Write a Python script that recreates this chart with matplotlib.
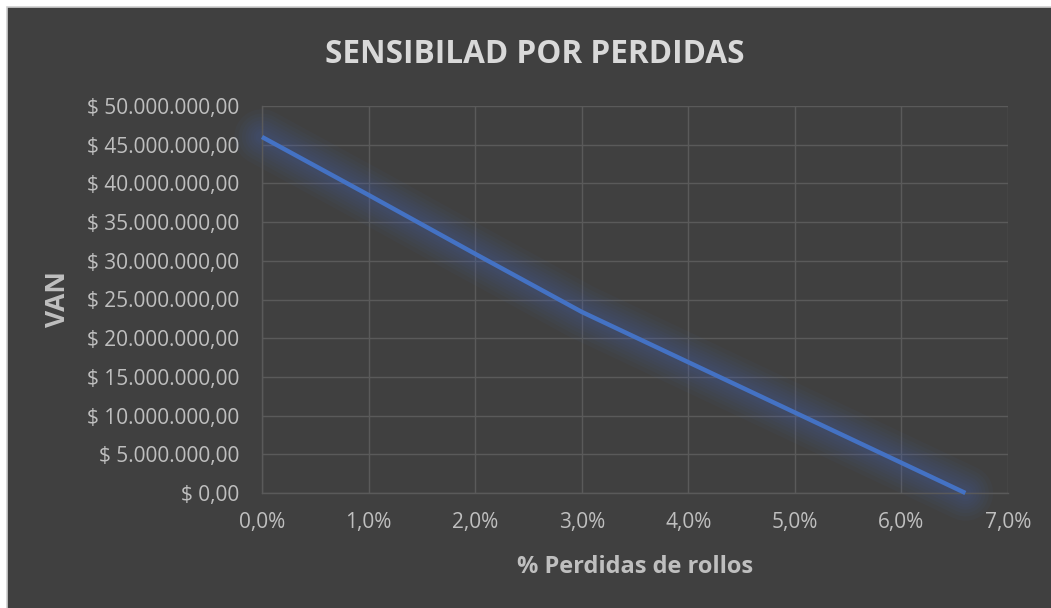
import matplotlib
matplotlib.use("Agg")
import matplotlib.pyplot as plt
from matplotlib.patches import Rectangle
from matplotlib.ticker import FuncFormatter, MultipleLocator

# Sensitivity of NPV (VAN) to roll losses
perdidas = [0.0, 0.01, 0.02, 0.03, 0.04, 0.05, 0.06, 0.066]
van = [46.0e6, 38.5e6, 30.9e6, 23.4e6, 16.9e6, 10.4e6, 3.9e6, 0.0]

title = "SENSIBILAD POR PERDIDAS"
xlabel = "% Perdidas de rollos"
ylabel = "VAN"

BG = "#404040"
GRID = "#5a5a5a"
TICK = "#bfbfbf"
TITLE = "#d9d9d9"
LINE = "#4472c4"
FONT = "Open Sans"

fig = plt.figure(figsize=(10.51, 6.08), dpi=100, facecolor="white")
fig.patches.append(Rectangle((7 / 1051, -0.05), 1.1, 1.05 - 7 / 608,
                             transform=fig.transFigure, facecolor=BG,
                             edgecolor="#d0d0d0", linewidth=1.2, zorder=-10))

ax = fig.add_axes([262 / 1051, 1 - 493 / 608, (1008 - 262) / 1051, (493 - 106) / 608])
ax.set_facecolor(BG)

# soft glow around the series
for w in [40, 34, 29, 24, 20, 16, 12, 9]:
    ax.plot(perdidas, van, color=LINE, lw=w, alpha=0.045, solid_capstyle="round",
            solid_joinstyle="round", zorder=2, clip_on=False)
ax.plot(perdidas, van, color=LINE, lw=3.2, solid_capstyle="butt",
        solid_joinstyle="round", zorder=3, clip_on=False)

ax.set_xlim(0, 0.07)
ax.set_ylim(0, 50e6)
ax.xaxis.set_major_locator(MultipleLocator(0.01))
ax.yaxis.set_major_locator(MultipleLocator(5e6))


def fmt_money(v, pos):
    s = f"{v:,.2f}".replace(",", "X").replace(".", ",").replace("X", ".")
    return f"$ {s}"


def fmt_pct(v, pos):
    return f"{v * 100:.1f}%".replace(".", ",")


ax.yaxis.set_major_formatter(FuncFormatter(fmt_money))
ax.xaxis.set_major_formatter(FuncFormatter(fmt_pct))

ax.grid(True, color=GRID, lw=1.0, zorder=1)
ax.set_axisbelow(True)
for side in ["top", "right"]:
    ax.spines[side].set_visible(False)
for side in ["left", "bottom"]:
    ax.spines[side].set_color(GRID)
    ax.spines[side].set_linewidth(1.0)
ax.tick_params(length=0, colors=TICK, labelsize=15)
ax.tick_params(axis="y", pad=16.5)
ax.tick_params(axis="x", pad=14)
for lab in ax.get_xticklabels() + ax.get_yticklabels():
    lab.set_fontfamily(FONT)

ax.set_xlabel(xlabel, color=TICK, fontsize=17, fontweight="bold",
              fontfamily=FONT)
ax.xaxis.set_label_coords(0.5, -(573 - 493) / 387, transform=ax.transAxes)
ax.xaxis.label.set_va("baseline")
ax.set_ylabel(ylabel, color=TICK, fontsize=19, fontweight="bold",
              fontfamily=FONT)
ax.yaxis.set_label_coords(-(262 - 57.5) / 746, 0.5)
ax.yaxis.label.set_va("center")

fig.text(535 / 1051, 1 - 63 / 608, title, ha="center", va="baseline",
         color=TITLE, fontsize=22.7, fontweight="bold", fontfamily=FONT)

fig.savefig("out.png", dpi=100, facecolor=fig.get_facecolor())
